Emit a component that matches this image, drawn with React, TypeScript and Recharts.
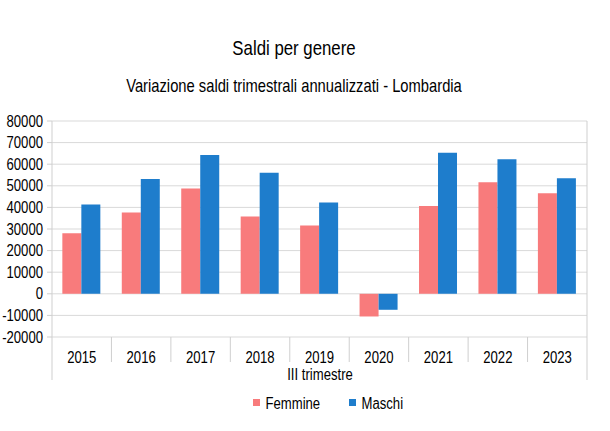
import { BarChart, Bar, XAxis, YAxis, CartesianGrid, Legend } from 'recharts';

// III trimestre, saldi annualizzati - Lombardia
const years = ['2015', '2016', '2017', '2018', '2019', '2020', '2021', '2022', '2023'];
const femmine = [28000, 37600, 48700, 35800, 31600, -10500, 40700, 51700, 46600];
const maschi = [41400, 53200, 64300, 56000, 42300, -7400, 65300, 62300, 53500];
const yTicks = [-20000, -10000, 0, 10000, 20000, 30000, 40000, 50000, 60000, 70000, 80000];

const data = years.map((anno, i) => ({ anno, Femmine: femmine[i], Maschi: maschi[i] }));

// no narrow font installed: squeeze Liberation Sans horizontally instead
const FONT = '"Liberation Sans", Arial, sans-serif';
const SQUEEZE = 0.82;
const PINK = '#f87b7c';
const BLUE = '#1e7dcc';
const GRID = '#d9d9d9';
const LINE = '#cfcfcf';

const W = 610;
const H = 431;
const PLOT_TOP = 121;
const PLOT_BOTTOM = 337;
const PLOT_LEFT = 52;
const PLOT_RIGHT = 587;
const BAND = (PLOT_RIGHT - PLOT_LEFT) / years.length;

const NarrowText = ({ x, y, size = 16, anchor = 'middle', dy, children }: any) => (
  <g transform={`translate(${x},${y})`}>
    <text
      transform={`scale(${SQUEEZE},1)`}
      textAnchor={anchor}
      dy={dy}
      fontSize={size}
      fontFamily={FONT}
      fill="#000"
    >
      {children}
    </text>
  </g>
);

const YearTick = (props: any) => {
  const { x, payload, index } = props;
  const left = x - BAND / 2;
  const right = x + BAND / 2;
  return (
    <g>
      {index === 0 ? (
        <line x1={left} y1={PLOT_TOP} x2={left} y2={380} stroke={LINE} />
      ) : (
        <line x1={left} y1={PLOT_BOTTOM} x2={left} y2={362} stroke={LINE} />
      )}
      {index === years.length - 1 && (
        <line x1={right} y1={PLOT_TOP} x2={right} y2={380} stroke={LINE} />
      )}
      <NarrowText x={x} y={363}>{payload.value}</NarrowText>
    </g>
  );
};

const ValueTick = (props: any) => {
  const { x, y, payload } = props;
  return (
    <NarrowText x={x} y={y} anchor="end" dy="0.355em">
      {payload.value}
    </NarrowText>
  );
};

const LegendBox = (props: any) => {
  const items = props.payload || [];
  const starts = [253, 349];
  return (
    <svg width={W} height={20} style={{ display: 'block' }}>
      {items.map((it: any, i: number) => (
        <g key={it.value}>
          <rect x={starts[i]} y={5} width={7} height={7} fill={it.color} />
          <NarrowText x={starts[i] + 12.5} y={14.5} anchor="start">
            {it.value}
          </NarrowText>
        </g>
      ))}
    </svg>
  );
};

export default function App() {
  return (
    <div style={{ position: 'relative', width: W, height: H, background: '#fff' }}>
      <style>{'body{margin:0}'}</style>
      <BarChart
        width={W}
        height={H}
        data={data}
        margin={{ top: PLOT_TOP, right: W - PLOT_RIGHT, left: 0, bottom: 44 }}
        barCategoryGap="17.4%"
        barGap={0}
      >
        <CartesianGrid vertical={false} stroke={GRID} />
        <XAxis
          dataKey="anno"
          height={H - PLOT_BOTTOM - 44}
          interval={0}
          axisLine={false}
          tickLine={false}
          tick={<YearTick />}
        />
        <YAxis
          width={PLOT_LEFT}
          type="number"
          domain={[-20000, 80000]}
          ticks={yTicks}
          interval={0}
          axisLine={false}
          tickLine={{ stroke: LINE }}
          tickSize={5}
          tickMargin={4}
          tick={<ValueTick />}
        />
        <Legend
          verticalAlign="middle"
          align="center"
          wrapperStyle={{ position: 'absolute', top: 394, left: 0, width: W }}
          content={<LegendBox />}
        />
        <Bar dataKey="Femmine" fill={PINK} isAnimationActive={false} />
        <Bar dataKey="Maschi" fill={BLUE} isAnimationActive={false} />
      </BarChart>
      <svg width={W} height={H} style={{ position: 'absolute', left: 0, top: 0, pointerEvents: 'none' }}>
        <NarrowText x={294} y={55} size={20.5}>Saldi per genere</NarrowText>
        <NarrowText x={294} y={91.5} size={18}>
          Variazione saldi trimestrali annualizzati - Lombardia
        </NarrowText>
        <NarrowText x={320} y={380}>III trimestre</NarrowText>
      </svg>
    </div>
  );
}
